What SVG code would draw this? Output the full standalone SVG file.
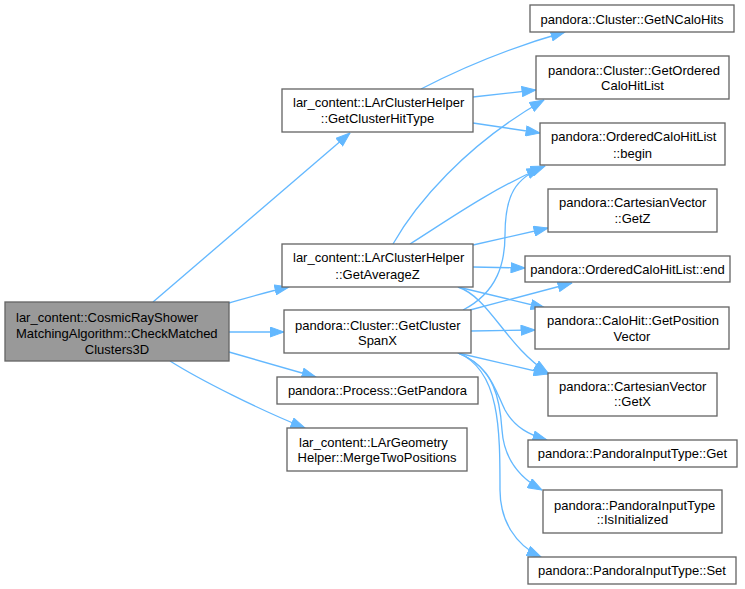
<svg xmlns="http://www.w3.org/2000/svg" width="745" height="589" viewBox="0 0 745 589">
<style>
.n rect{fill:#ffffff;stroke:#666666;stroke-width:1.33}
.n.main rect{fill:#999999}
.n text{font-family:"Liberation Sans",Arial,sans-serif;font-size:13px;fill:#000000}
.m{text-anchor:middle}
.e path{fill:none;stroke:#63b8ff;stroke-width:1.33;marker-end:url(#ah)}
</style>
<defs>
<marker id="ah" markerUnits="userSpaceOnUse" markerWidth="15" markerHeight="11" viewBox="0 0 15 11" refX="14.5" refY="5.5" orient="auto">
<path d="M0.5,0.5 L14.5,5.5 L0.5,10.5 Z" fill="#63b8ff" stroke="#63b8ff" stroke-width="1"/>
</marker>
</defs>
<rect width="745" height="589" fill="#ffffff"/>
<g id="edges" class="e">
<path d="M153,302 L350,133"/>
<path d="M229,303 C250,297 270,291 289,287"/>
<path d="M229,332 L284,332"/>
<path d="M229,352 L316,377"/>
<path d="M170,361 C200,380 260,410 305,428"/>
<path d="M421,89 C450,74 495,52 565,32"/>
<path d="M473,97 L536,90"/>
<path d="M473,123 L540,133"/>
<path d="M393,244 C415,205 465,145 544,100"/>
<path d="M410,244 C445,222 490,190 541,168"/>
<path d="M473,245 L548,228"/>
<path d="M473,267 L525,268"/>
<path d="M458,287 L545,308"/>
<path d="M458,287 C490,298 505,345 548,373"/>
<path d="M463,310 C498,292 505,262 505,235 C505,195 515,178 545,166"/>
<path d="M470,310 L572,283"/>
<path d="M471,331 L535,330"/>
<path d="M458,353 L548,374"/>
<path d="M458,353 C490,365 495,390 505,410 C515,428 530,435 547,440"/>
<path d="M458,353 C495,368 500,400 502,430 C504,460 520,478 542,490"/>
<path d="M458,353 C500,370 500,430 500,490 C500,520 515,545 541,557"/>
</g>
<g id="node_main" class="n main">
<rect x="5" y="302" width="224" height="59"/>
<text x="16" y="321.5">lar_content::CosmicRayShower</text>
<text x="16" y="337.5">MatchingAlgorithm::CheckMatched</text>
<text class="m" x="117" y="353.5">Clusters3D</text>
</g>
<g id="node_hittype" class="n">
<rect x="282" y="89" width="191" height="43"/>
<text x="293" y="106.5">lar_content::LArClusterHelper</text>
<text class="m" x="377.5" y="122.5">::GetClusterHitType</text>
</g>
<g id="node_avgz" class="n">
<rect x="282" y="244" width="191" height="43"/>
<text x="293" y="262">lar_content::LArClusterHelper</text>
<text class="m" x="377.5" y="278.5">::GetAverageZ</text>
</g>
<g id="node_spanx" class="n">
<rect x="284" y="310" width="187" height="43"/>
<text x="295" y="329.5">pandora::Cluster::GetCluster</text>
<text class="m" x="377.5" y="345">SpanX</text>
</g>
<g id="node_getpandora" class="n">
<rect x="277" y="377" width="201" height="27"/>
<text class="m" x="377.5" y="395">pandora::Process::GetPandora</text>
</g>
<g id="node_merge" class="n">
<rect x="287" y="428" width="180" height="43"/>
<text x="299" y="447">lar_content::LArGeometry</text>
<text class="m" x="377" y="462">Helper::MergeTwoPositions</text>
</g>
<g id="node_ncalohits" class="n">
<rect x="530" y="5" width="204" height="27"/>
<text class="m" x="632" y="23.5">pandora::Cluster::GetNCaloHits</text>
</g>
<g id="node_ordered" class="n">
<rect x="536" y="56" width="193" height="43"/>
<text x="548" y="74.5">pandora::Cluster::GetOrdered</text>
<text class="m" x="632.5" y="90">CaloHitList</text>
</g>
<g id="node_begin" class="n">
<rect x="540" y="123" width="185" height="42"/>
<text x="551" y="141">pandora::OrderedCaloHitList</text>
<text class="m" x="632.5" y="157.5">::begin</text>
</g>
<g id="node_getz" class="n">
<rect x="548" y="189" width="169" height="43"/>
<text x="559" y="207">pandora::CartesianVector</text>
<text class="m" x="632.5" y="223">::GetZ</text>
</g>
<g id="node_end" class="n">
<rect x="525" y="256" width="205" height="26"/>
<text class="m" x="627.5" y="274">pandora::OrderedCaloHitList::end</text>
</g>
<g id="node_posvec" class="n">
<rect x="535" y="307" width="194" height="42"/>
<text x="547" y="325">pandora::CaloHit::GetPosition</text>
<text class="m" x="632" y="341">Vector</text>
</g>
<g id="node_getx" class="n">
<rect x="548" y="373" width="169" height="43"/>
<text x="559" y="391">pandora::CartesianVector</text>
<text class="m" x="632.5" y="406">::GetX</text>
</g>
<g id="node_pitget" class="n">
<rect x="528" y="440" width="209" height="27"/>
<text class="m" x="632.5" y="458">pandora::PandoraInputType::Get</text>
</g>
<g id="node_isinit" class="n">
<rect x="543" y="490" width="179" height="43"/>
<text x="554" y="509.5">pandora::PandoraInputType</text>
<text class="m" x="632.5" y="524">::IsInitialized</text>
</g>
<g id="node_set" class="n">
<rect x="528" y="557" width="208" height="27"/>
<text class="m" x="632" y="575">pandora::PandoraInputType::Set</text>
</g>
</svg>
